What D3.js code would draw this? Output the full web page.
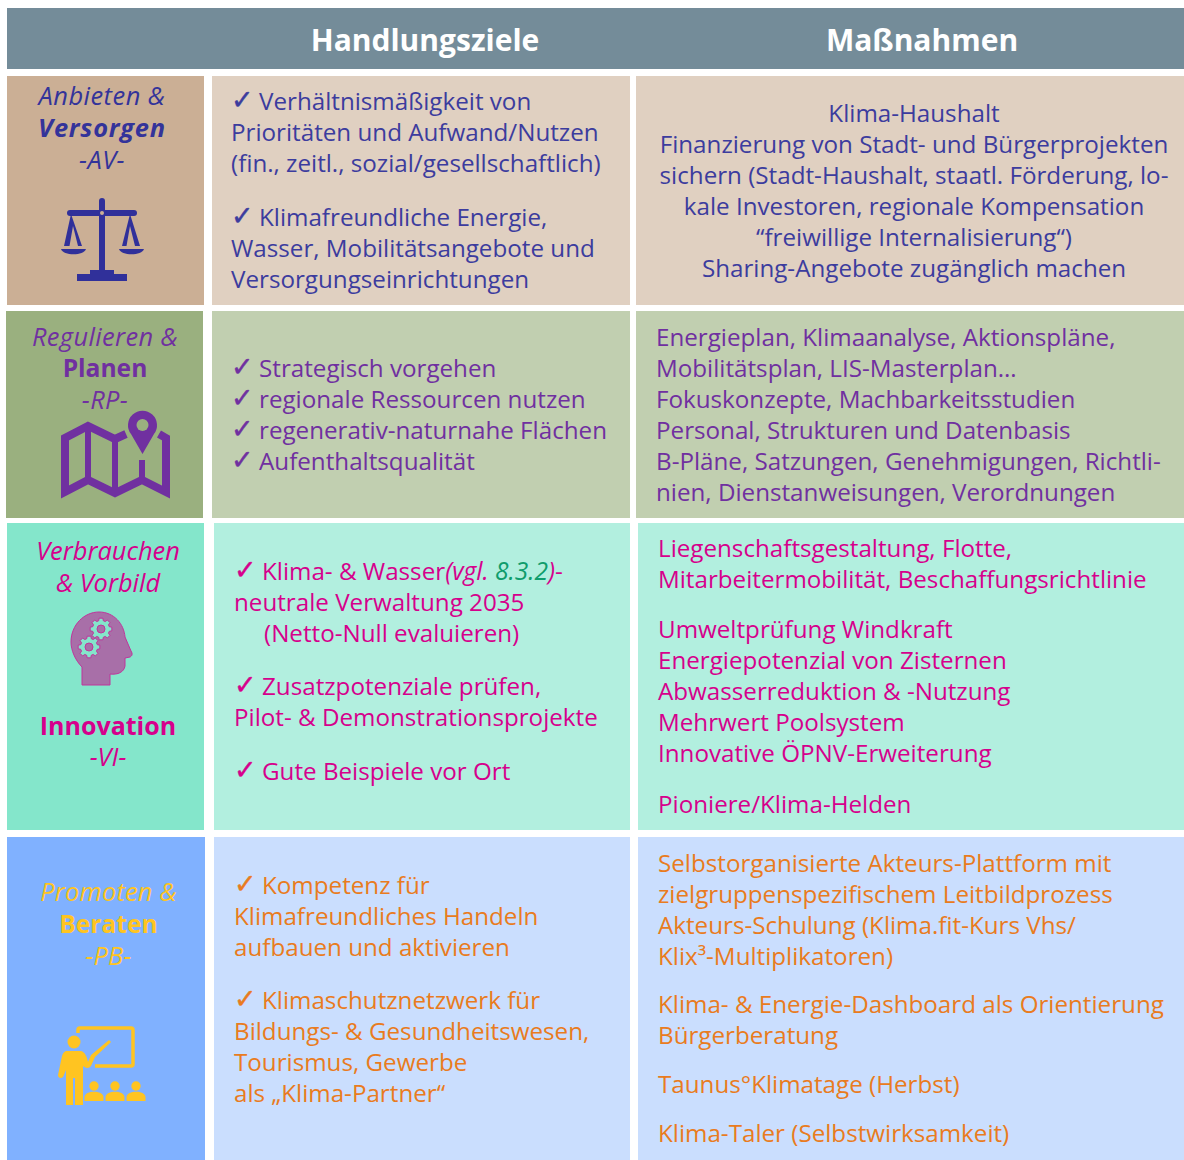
<!DOCTYPE html>
<html>
<head>
<meta charset="utf-8">
<script src="https://cdn.jsdelivr.net/npm/d3@7"></script>
<style>
  html, body { margin: 0; padding: 0; background: #fff; }
  svg { display: block; }
  text { font-family: "Open Sans", "Noto Sans", sans-serif; }
</style>
</head>
<body>
<svg id="chart" width="1184" height="1160"></svg>
<script>
var columnHeads = ['Handlungsziele', 'Maßnahmen'];
var rowKeys = ['AV', 'RP', 'VI', 'PB'];
var rowStrong = ['#cbaf95', '#9ab07f', '#84e6cb', '#80b1ff'];
var rowLight = ['#e0d0c1', '#c1cfb0', '#b2efdf', '#cadefe'];
var rowInk = ['#3c3c9e', '#7030a0', '#d6008c', '#e97b20'];
var rowLabelInk = ['#33339a', '#7030a0', '#d6008c', '#ffc421'];
var refGreen = '#0f9d6c';

// label lines: text, style (b bold, i italic), font size, letter spacing
var labelsAV = [['Anbieten &', 'i', 25.4, 0.5], ['Versorgen', 'bi', 25.4, 0.8], ['-AV-', 'i', 25.4, 0.5]];
var labelsRP = [['Regulieren &', 'i', 25.4, 0.4], ['Planen', 'b', 24.6, 0], ['-RP-', 'i', 25.4, 0.4]];
var labelsVI = [['Verbrauchen', 'i', 25.4, 0], ['& Vorbild', 'i', 25.4, 0], ['Innovation', 'b', 25, 0], ['-VI-', 'i', 25.4, 0]];
var labelsPB = [['Promoten &', 'i', 25.4, 0.2], ['Beraten', 'b', 24.6, 0], ['-PB-', 'i', 25.4, 0.2]];

// paragraphs; a leading "✓ " draws the check mark
var goalsAV = [['✓ Verhältnismäßigkeit von', 'Prioritäten und Aufwand/Nutzen', '(fin., zeitl., sozial/gesellschaftlich)'],
  ['✓ Klimafreundliche Energie,', 'Wasser, Mobilitätsangebote und', 'Versorgungseinrichtungen']];
var goalsRP = [['✓ Strategisch vorgehen', '✓ regionale Ressourcen nutzen', '✓ regenerativ-naturnahe Flächen', '✓ Aufenthaltsqualität']];
var goalsVI = [['✓ Klima- & Wasser|(vgl. |8.3.2|)|-', 'neutrale Verwaltung 2035', '    (Netto-Null evaluieren)'],
  ['✓ Zusatzpotenziale prüfen,', 'Pilot- & Demonstrationsprojekte'],
  ['✓ Gute Beispiele vor Ort']];
var goalsPB = [['✓ Kompetenz für', 'Klimafreundliches Handeln', 'aufbauen und aktivieren'],
  ['✓ Klimaschutznetzwerk für', 'Bildungs- & Gesundheitswesen,', 'Tourismus, Gewerbe', 'als „Klima-Partner“']];

var measuresAV = [['Klima-Haushalt', 'Finanzierung von Stadt- und Bürgerprojekten', 'sichern (Stadt-Haushalt, staatl. Förderung, lo-', 'kale Investoren, regionale Kompensation', '“freiwillige Internalisierung“)', 'Sharing-Angebote zugänglich machen']];
var measuresRP = [['Energieplan, Klimaanalyse, Aktionspläne,', 'Mobilitätsplan, LIS-Masterplan…', 'Fokuskonzepte, Machbarkeitsstudien', 'Personal, Strukturen und Datenbasis', 'B-Pläne, Satzungen, Genehmigungen, Richtli-', 'nien, Dienstanweisungen, Verordnungen']];
var measuresVI = [['Liegenschaftsgestaltung, Flotte,', 'Mitarbeitermobilität, Beschaffungsrichtlinie'],
  ['Umweltprüfung Windkraft', 'Energiepotenzial von Zisternen', 'Abwasserreduktion & -Nutzung', 'Mehrwert Poolsystem', 'Innovative ÖPNV-Erweiterung'],
  ['Pioniere/Klima-Helden']];
var measuresPB = [['Selbstorganisierte Akteurs-Plattform mit', 'zielgruppenspezifischem Leitbildprozess', 'Akteurs-Schulung (Klima.fit-Kurs Vhs/', 'Klix³-Multiplikatoren)'],
  ['Klima- & Energie-Dashboard als Orientierung', 'Bürgerberatung'],
  ['Taunus°Klimatage (Herbst)'],
  ['Klima-Taler (Selbstwirksamkeit)']];

var labels = [labelsAV, labelsRP, labelsVI, labelsPB];
var goals = [goalsAV, goalsRP, goalsVI, goalsPB];
var measures = [measuresAV, measuresRP, measuresVI, measuresPB];

// layout of the table
var rowTop = [76, 311, 523, 837], rowBottom = [305, 518, 830, 1160];
var col0 = [[7, 204], [6, 203], [7, 204], [7, 205]];
var col1 = [[212, 630], [212, 630], [214, 630], [214, 630]];
var col2 = [[636, 1184], [636, 1184], [638, 1184], [638, 1184]];
var labelX = [102, 105, 108, 108.5];
var goalX = [231, 231, 234, 234];
var LEAD = 31, FS = 24.2;
var labelBase = [[105, 137, 169], [346, 377, 409], [560, 592, 735, 766], [901, 933, 965]];
var goalStart = [110, 377, 580, 894], goalGap = [[23], [0], [22, 23], [22]];
var measureStart = [122, 346, 557, 872], measureGaps = [[0], [0], [19, 20], [17, 18, 18]];

var svg = d3.select('#chart');
var y0 = d3.scaleOrdinal(rowKeys, rowTop);
var y1 = d3.scaleOrdinal(rowKeys, rowBottom);

svg.append('rect').attr('x', 7).attr('y', 8).attr('width', 1177).attr('height', 61).attr('fill', '#748c99');
svg.selectAll('text.head').data(columnHeads).enter().append('text').attr('class', 'head')
  .attr('x', function(d, i) { return i ? 922 : 425; }).attr('y', 51)
  .attr('text-anchor', 'middle').attr('fill', '#fff').attr('font-weight', 700).attr('font-size', 30)
  .text(function(d) { return d; });

function addCell(x, k, color) {
  svg.append('rect').attr('x', x[0]).attr('y', y0(k)).attr('width', x[1] - x[0])
    .attr('height', y1(k) - y0(k)).attr('fill', color);
}

// one line of text, "|" splits the runs of the reference note
function addLine(x, y, line, color, anchor) {
  var check = line.indexOf('✓ ') === 0;
  if (check) {
    svg.append('text').attr('x', x).attr('y', y - 1).attr('fill', color).attr('font-size', 27)
      .attr('stroke', color).attr('stroke-width', 0.4)
      .style('font-family', 'DejaVu Sans').text('✓');
    line = line.slice(2);
    x += 28;
  }
  if (line.indexOf('    ') === 0) { line = line.trim(); x += 30; }
  var t = svg.append('text').attr('x', x).attr('y', y).attr('fill', color).attr('font-size', FS)
    .attr('text-anchor', anchor || 'start').attr('xml:space', 'preserve');
  line.split('|').forEach(function(run, i) {
    var s = t.append('tspan').text(run).attr('fill', i === 2 ? refGreen : color);
    if (i > 0 && i < 4) s.attr('font-style', 'italic').attr('font-size', 24.6);
  });
}

function addParas(paras, x, start, gaps, color, anchor) {
  var y = start;
  paras.forEach(function(p, pi) {
    p.forEach(function(line) { addLine(x, y, line, color, anchor); y += LEAD; });
    y += gaps[pi] || 0;
  });
}

rowKeys.forEach(function(k, r) {
  addCell(col0[r], k, rowStrong[r]);
  addCell(col1[r], k, rowLight[r]);
  addCell(col2[r], k, rowLight[r]);
  labels[r].forEach(function(l, i) {
    svg.append('text').attr('x', labelX[r]).attr('y', labelBase[r][i]).attr('text-anchor', 'middle')
      .attr('fill', rowLabelInk[r]).attr('font-size', l[2]).style('letter-spacing', l[3] + 'px')
      .attr('font-weight', l[1].indexOf('b') >= 0 ? 700 : 400)
      .attr('font-style', l[1].indexOf('i') >= 0 ? 'italic' : 'normal').text(l[0]);
  });
  addParas(goals[r], goalX[r], goalStart[r], goalGap[r], rowInk[r]);
  if (r === 0) addParas(measures[r], 914, measureStart[r], measureGaps[r], rowInk[r], 'middle');
  else addParas(measures[r], col2[r][0] + 20, measureStart[r], measureGaps[r], rowInk[r]);
});

// icons
function drawScales(c) {
  var g = svg.append('g').attr('fill', c).attr('stroke', 'none');
  g.append('path').attr('d', 'M99 201a3 3 0 0 1 6 0V270h9v4h13v7H77v-7h13v-4h9Z');
  g.append('rect').attr('x', 67).attr('y', 210).attr('width', 70).attr('height', 6).attr('rx', 3);
  g.append('circle').attr('cx', 102).attr('cy', 213).attr('r', 2).attr('fill', rowStrong[0]);
  ['M71 214L64 246h5.5L73 226L78 246h4Z', 'M130 214L122 246h4.5L130 226L135 246h5Z'].forEach(function(d) {
    g.append('path').attr('d', d);
  });
  g.append('path').attr('d', 'M61 249H86C84 256 63 256 61 249Z');
  g.append('path').attr('d', 'M119 249H144C142 256 121 256 119 249Z');
}

function drawMap(c) {
  var g = svg.append('g');
  g.append('path').attr('d', 'M126 434L115 439L88 426L65 438V492L88 480L115 493L142 480L166 492V438L159 434')
    .attr('fill', 'none').attr('stroke', c).attr('stroke-width', 8);
  g.append('path').attr('d', 'M88 426V480M115 439V493M142 460V480').attr('stroke', c).attr('stroke-width', 6);
  g.append('path').attr('d', 'M142.5 454L131 434A14.5 14.5 0 1 1 154 434Z').attr('fill', c);
  g.append('circle').attr('cx', 142.5).attr('cy', 425).attr('r', 6).attr('fill', rowStrong[1]);
}

function gearPath(cx, cy, r) {
  var pts = [];
  d3.range(8).forEach(function(i) {
    var a = i * Math.PI / 4;
    [[-0.27, r * 0.78], [-0.17, r], [0.17, r], [0.27, r * 0.78]].forEach(function(p) {
      pts.push([cx + p[1] * Math.cos(a + p[0]), cy + p[1] * Math.sin(a + p[0])]);
    });
  });
  return d3.line()(pts) + 'Z';
}

function drawHead() {
  var g = svg.append('g');
  g.append('path').attr('d', 'M82 685V667C75 660 71 650 71 642C71 625 84 612 99 612C114 612 124 624 125 637L131 651C133 654 132 656 130 657L125 658L125 666C124 672 118 675 110 674V685Z')
    .attr('fill', '#a86fa8').attr('stroke', '#c0359b').attr('stroke-width', 1);
  [[101, 629, 11], [89, 647, 11]].forEach(function(p) {
    g.append('path').attr('d', gearPath(p[0], p[1], p[2])).attr('fill', rowStrong[2]).attr('stroke', '#c0359b').attr('stroke-width', 1);
    g.append('circle').attr('cx', p[0]).attr('cy', p[1]).attr('r', 4).attr('fill', '#a86fa8').attr('stroke', '#c0359b');
  });
}

function drawTeacher(c) {
  var g = svg.append('g').attr('fill', c);
  g.append('path').attr('d', 'M78 1033V1030A2 2 0 0 1 80 1028H131A2 2 0 0 1 133 1030V1064A2 2 0 0 1 131 1066H95')
    .attr('fill', 'none').attr('stroke', c).attr('stroke-width', 3.5);
  g.append('circle').attr('cx', 74).attr('cy', 1042).attr('r', 6.5);
  g.append('path').attr('d', 'M66 1051H81C85 1052 87 1057 88 1062L91 1055L109 1040L111 1042L95 1057L91 1066C89 1069 85 1068 83 1066V1105H75V1078H73V1105H66V1070L63 1077C61 1079 58 1078 58 1075L62 1056C63 1053 64 1052 66 1051Z');
  [94, 115, 136].forEach(function(x) {
    g.append('circle').attr('cx', x).attr('cy', 1086).attr('r', 4.7);
    g.append('path').attr('d', 'M' + (x - 9.5) + ' 1101V1097C' + (x - 9) + ' 1090 ' + (x + 9) + ' 1090 ' + (x + 9.5) + ' 1097V1101Z');
  });
}

drawScales('#30309a');
drawMap('#7030a0');
drawHead();
drawTeacher('#ffc421');
</script>
</body>
</html>
